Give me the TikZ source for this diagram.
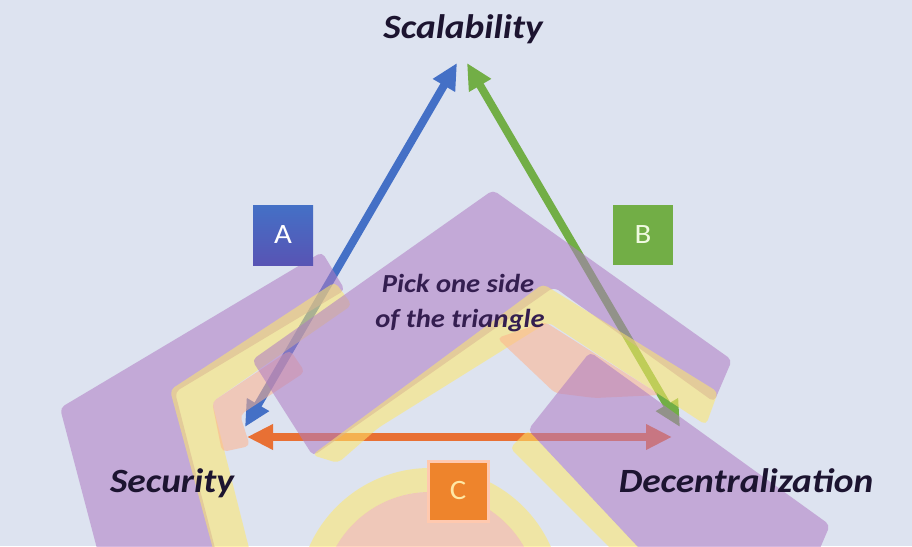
\documentclass[tikz,border=0pt]{standalone}
\usepackage{fontspec}
\setmainfont{Carlito}
\newfontfamily\trifont[FakeStretch=1.1]{Carlito}
\usetikzlibrary{arrows.meta,calc}
\definecolor{BgClr}{RGB}{221,227,240}
\definecolor{VioClr}{RGB}{174,123,195}
\definecolor{YelClr}{RGB}{255,232,104}
\definecolor{PeachClr}{RGB}{255,178,140}
\definecolor{BlueClr}{RGB}{68,112,198}
\definecolor{BlueDkClr}{RGB}{88,84,180}
\definecolor{GreenClr}{RGB}{114,174,70}
\definecolor{OrangeClr}{RGB}{232,112,52}
\definecolor{BoxOrClr}{RGB}{238,132,44}
\definecolor{TextClr}{RGB}{28,20,48}
\definecolor{PickClr}{RGB}{52,30,80}

\begin{document}
\begin{tikzpicture}[x=1pt,y=-1pt,
  band/.style={fill opacity=.55,rounded corners=5pt},
  sidearrow/.style={line width=8pt,{Triangle[length=26pt,width=24pt]}-{Triangle[length=26pt,width=24pt]}},
  corner/.style={font=\trifont\bfseries\itshape\fontsize{34}{36}\selectfont,text=TextClr,anchor=base,inner sep=0pt},
  pick/.style={font=\trifont\bfseries\itshape\fontsize{26}{28}\selectfont,text=PickClr,anchor=base,inner sep=0pt},
  letter/.style={minimum size=60pt,inner sep=0pt,font=\trifont\fontsize{28}{30}\selectfont}]

\fill[BgClr] (0,0) rectangle (912,546);
\clip (0,0) rectangle (912,546);

\coordinate (scalL) at (457,63);
\coordinate (scalR) at (467,63);
\coordinate (secA) at (245,427);
\coordinate (secC) at (247,437);
\coordinate (decB) at (680,427);
\coordinate (decC) at (672,437);

\draw[sidearrow,BlueClr] (secA) -- (scalL);
\draw[sidearrow,GreenClr] (scalR) -- (decB);
\draw[sidearrow,OrangeClr] (secC) -- (decC);

% bottom ring
\fill[band,YelClr,even odd rule] (430,600) circle (132) (430,600) circle (108);
\fill[band,PeachClr] (430,600) circle (108);

% left chevron
\fill[band,VioClr] (60,408) -- (322,252) -- (345,290) -- (175,392) -- (218,560) -- (100,560) -- cycle;
\fill[band,YelClr] (170,390) -- (335,282) -- (352,305) -- (212,402) -- (252,560) -- (216,560) -- cycle;
\fill[band,PeachClr] (212,402) -- (290,350) -- (305,372) -- (240,415) -- (250,446) -- (222,452) -- cycle;

% middle chevron
\fill[band,VioClr] (493,190) -- (732,360) -- (714,402) -- (554,287) -- (313,456) -- (252,360) -- cycle;
\fill[band,YelClr] (543,284) -- (718,392) -- (706,425) -- (548,322) -- (378,428) -- (338,463) -- (312,455) -- cycle;
\fill[band,PeachClr] (497,338) -- (545,322) -- (660,395) -- (595,398) -- (555,393) -- cycle;

% right band
\fill[band,VioClr] (590,352) -- (830,525) -- (815,560) -- (650,560) -- (528,430) -- cycle;
\fill[band,YelClr] (528,430) -- (650,560) -- (622,560) -- (510,448) -- cycle;

\node[letter,top color=BlueClr,bottom color=BlueDkClr,text=white] (boxA) at (283,235) {A};
\node[letter,fill=GreenClr,text={rgb,255:red,240;green,250;blue,225}] (boxB) at (643,235) {B};
\node[letter,fill=BoxOrClr,draw=PeachClr!70,line width=3pt,text={rgb,255:red,255;green,232;blue,165}] (boxC) at (458,491) {C};

\node[corner] (scal) at (463,38) {Scalability};
\node[corner] (sec) at (172,492) {Security};
\node[corner] (dec) at (746,492) {Decentralization};
\node[pick] (pick) at (458,292) {Pick one side};
\node[pick] (tri) at (460,327) {of the triangle};

\end{tikzpicture}
\end{document}
